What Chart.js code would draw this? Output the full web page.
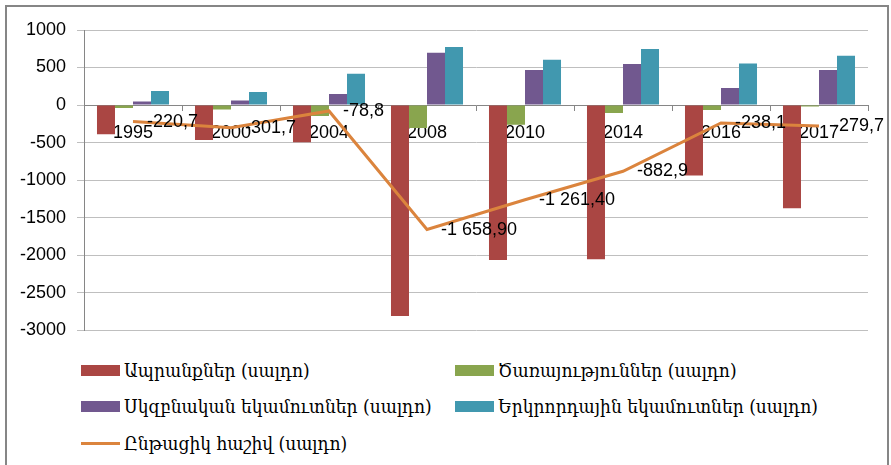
<!DOCTYPE html>
<html>
<head>
<meta charset="utf-8">
<script src="https://cdn.jsdelivr.net/npm/chart.js@4"></script>
<style>
  html, body { margin: 0; padding: 0; background: #fff; }
  body { width: 891px; height: 465px; position: relative; overflow: hidden; }
  #frame { position: absolute; left: 5px; top: 5px; width: 884px; height: 470px; border: 2px solid #868686; box-sizing: border-box; }
  #chart { position: absolute; left: 0; top: 0; }
  .leg { position: absolute; height: 22px; display: flex; align-items: center; font-family: "DejaVu Serif Condensed", "DejaVu Serif", serif; font-size: 19px; color: #000; white-space: nowrap; }
  .sw { width: 39px; height: 11px; margin-right: 4px; }
  .sw.line { height: 3px; }
</style>
</head>
<body>
<div id="frame"></div>
<canvas id="chart" width="891" height="352"></canvas>
<div id="legend"></div>
<script>
// years
const categories = ['1995', '2000', '2004', '2008', '2010', '2014', '2016', '2017'];
// bar series
const goods = [-390, -465, -495, -2810, -2065, -2055, -940, -1375];
const services = [-40, -58, -147, -307, -263, -107, -67, -18];
const primaryIncome = [48, 61, 147, 697, 467, 547, 227, 467];
const secondaryIncome = [187, 173, 417, 773, 604, 747, 555, 657];
// line series + its printed labels
const currentAccount = [-220.7, -301.7, -78.8, -1658.9, -1261.4, -882.9, -238.1, -279.7];
const currentLabels = ['-220,7', '-301,7', '-78,8', '-1 658,90', '-1 261,40', '-882,9', '-238,1', '-279,7'];
const yTicks = [1000, 500, 0, -500, -1000, -1500, -2000, -2500, -3000];

const names = [
  'Ապրանքներ (սալդո)',
  'Ծառայություններ (սալդո)',
  'Սկզբնական եկամուտներ (սալդո)',
  'Երկրորդային եկամուտներ (սալդո)',
  'Ընթացիկ հաշիվ (սալդո)'
];
const colors = ['#AA4643', '#89A54E', '#71588F', '#4198AF', '#DB843D'];

Chart.defaults.font.family = '"Liberation Sans", Arial, sans-serif';
Chart.defaults.font.size = 18;
Chart.defaults.color = '#000';

// value labels to the right of the line points
const lineLabels = {
  id: 'lineLabels',
  afterDatasetsDraw(chart) {
    const meta = chart.getDatasetMeta(4);
    const ctx = chart.ctx;
    ctx.save();
    ctx.font = '18px "Liberation Sans", Arial, sans-serif';
    ctx.fillStyle = '#000';
    ctx.textAlign = 'left';
    ctx.textBaseline = 'middle';
    meta.data.forEach((pt, i) => {
      ctx.fillText(currentLabels[i], pt.x + 14, pt.y);
    });
    ctx.restore();
  }
};

const barDs = (i, data) => ({
  type: 'bar',
  label: names[i],
  data: data,
  backgroundColor: colors[i],
  borderWidth: 0,
  order: 2,
  categoryPercentage: 0.735,
  barPercentage: 1
});

new Chart(document.getElementById('chart'), {
  data: {
    labels: categories,
    datasets: [
      barDs(0, goods),
      barDs(1, services),
      barDs(2, primaryIncome),
      barDs(3, secondaryIncome),
      {
        type: 'line',
        label: names[4],
        data: currentAccount,
        borderColor: colors[4],
        backgroundColor: colors[4],
        borderWidth: 3,
        pointRadius: 0,
        tension: 0,
        order: 1
      }
    ]
  },
  options: {
    responsive: false,
    animation: false,
    devicePixelRatio: 1,
    layout: { padding: { top: 30, right: 23, bottom: 11, left: 0 } },
    plugins: { legend: { display: false }, tooltip: { enabled: false } },
    scales: {
      x: {
        position: { y: 0 },
        z: 1,
        offset: true,
        grid: { offset: true, drawOnChartArea: false, drawTicks: true, tickLength: 5, color: '#868686' },
        border: { display: true, color: '#868686', width: 1 },
        ticks: { padding: 12, maxRotation: 0, autoSkip: false }
      },
      y: {
        min: -3000,
        max: 1000,
        afterBuildTicks: (s) => { s.ticks = yTicks.map(v => ({ value: v })); },
        afterFit: (s) => { s.width = 84; },
        grid: { color: '#BFBFBF', tickLength: 7, drawTicks: true },
        border: { display: true, color: '#868686' },
        ticks: { padding: 11, callback: (v) => String(v) }
      }
    }
  },
  plugins: [lineLabels]
});

// legend, two columns
const legend = document.getElementById('legend');
const cols = [81, 455];
const rows = [370, 406, 443];
names.forEach((n, i) => {
  const el = document.createElement('div');
  el.className = 'leg';
  el.style.left = cols[i % 2] + 'px';
  el.style.top = (rows[Math.floor(i / 2)] - 11) + 'px';
  const sw = document.createElement('span');
  sw.className = 'sw' + (i === 4 ? ' line' : '');
  sw.style.background = colors[i];
  el.appendChild(sw);
  el.appendChild(document.createTextNode(n));
  legend.appendChild(el);
});
</script>
</body>
</html>
